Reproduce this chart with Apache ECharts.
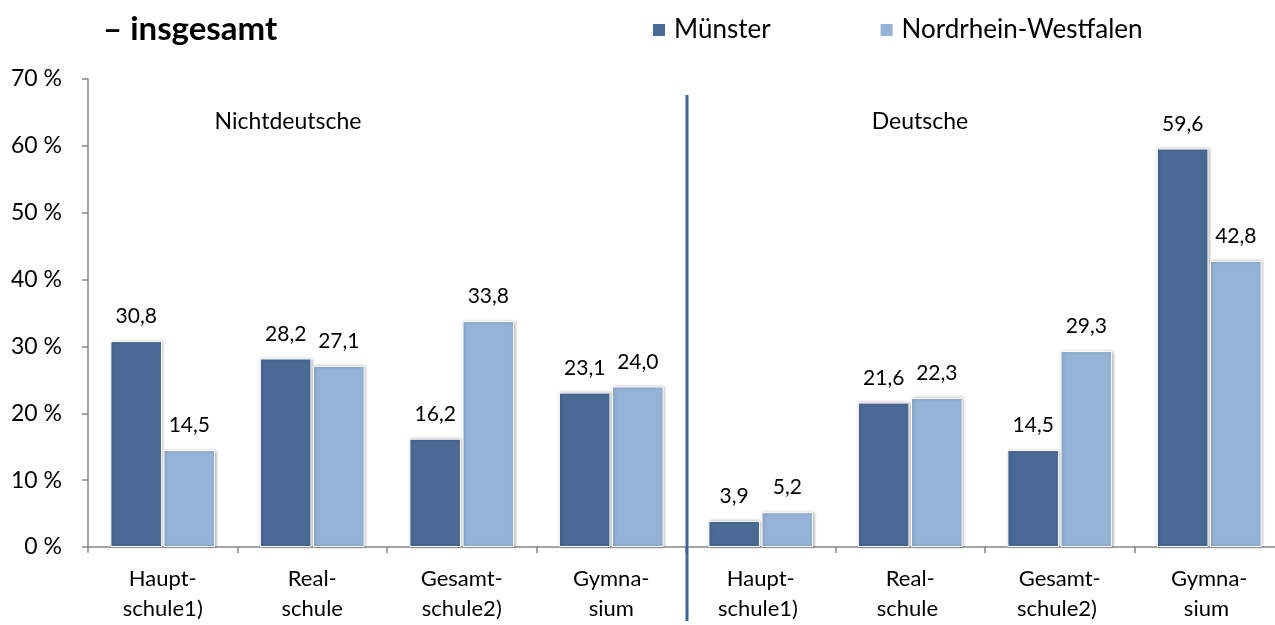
<!DOCTYPE html>
<html>
<head>
<meta charset="utf-8">
<script src="https://cdn.jsdelivr.net/npm/echarts@6/dist/echarts.min.js"></script>
<style>
  html, body { margin: 0; padding: 0; background: #fff; overflow: hidden; }
  /* etwas breiter als das Fenster: die Achse läuft rechts über den Rand */
  #chart { width: 1290px; height: 625px; }
</style>
</head>
<body>
<div id="chart"></div>
<script>
// Schulformen, links Nichtdeutsche, rechts Deutsche
var categories = ['Haupt-\nschule1)', 'Real-\nschule', 'Gesamt-\nschule2)', 'Gymna-\nsium',
                  'Haupt-\nschule1) ', 'Real-\nschule ', 'Gesamt-\nschule2) ', 'Gymna-\nsium '];
var muenster = [30.8, 28.2, 16.2, 23.1, 3.9, 21.6, 14.5, 59.6];
var nrw = [14.5, 27.1, 33.8, 24.0, 5.2, 22.3, 29.3, 42.8];
var groupNames = ['Nichtdeutsche', 'Deutsche'];
var yTicks = [0, 10, 20, 30, 40, 50, 60, 70];

var font = 'Lato, "Open Sans", sans-serif';
var darkBlue = '#4a6a96';
var lightBlue = '#95b3d7';

var chart = echarts.init(document.getElementById('chart'));

function barStyle (color) {
  return {
    color: color,
    borderColor: '#ffffff',
    borderWidth: 1,
    shadowBlur: 3,
    shadowOffsetX: 1,
    shadowOffsetY: 0,
    shadowColor: 'rgba(0,0,0,0.3)'
  }
}

function valueLabel () {
  return {
    show: true,
    position: 'top',
    distance: 14,
    color: '#000',
    fontFamily: font,
    fontSize: 21,
    formatter: function (p) {
      return p.value.toFixed(1).replace('.', ',')
    }
  }
}

var option = {
  animation: false,
  title: {
    text: '– insgesamt',
    left: 98,
    top: 8,
    textStyle: { fontFamily: font, fontSize: 33, fontWeight: 'bold', color: '#000' }
  },
  legend: {
    left: 646,
    top: 12,
    itemWidth: 14,
    itemHeight: 14,
    itemGap: 108,
    icon: 'rect',
    textStyle: { fontFamily: font, fontSize: 26, color: '#000', padding: [0, 0, 0, 3] },
    data: ['Münster', 'Nordrhein-Westfalen']
  },
  grid: {
    left: 88,
    right: 6,
    top: 79,
    bottom: 78,
    containLabel: false
  },
  xAxis: {
    type: 'category',
    data: categories,
    axisLine: { lineStyle: { color: '#868686', width: 1.5 } },
    axisTick: { show: true, length: 6, lineStyle: { color: '#868686', width: 1.5 } },
    axisLabel: {
      margin: 17,
      color: '#000',
      fontFamily: font,
      fontSize: 22,
      lineHeight: 30,
      interval: 0
    }
  },
  yAxis: {
    type: 'value',
    min: yTicks[0],
    max: yTicks[yTicks.length - 1],
    interval: 10,
    axisLine: { show: true, lineStyle: { color: '#868686', width: 1.5 } },
    axisTick: { show: true, length: 6, lineStyle: { color: '#868686', width: 1.5 } },
    splitLine: { show: false },
    axisLabel: {
      margin: 26,
      color: '#000',
      fontFamily: font,
      fontSize: 23,
      formatter: function (v) { return v + ' %' }
    }
  },
  series: [
    {
      name: 'Münster',
      type: 'bar',
      data: muenster,
      barWidth: '34.5%',
      barGap: '3%',
      itemStyle: barStyle(darkBlue),
      label: valueLabel()
    },
    {
      name: 'Nordrhein-Westfalen',
      type: 'bar',
      data: nrw,
      barWidth: '34.5%',
      barGap: '3%',
      itemStyle: barStyle(lightBlue),
      label: valueLabel()
    }
  ]
};
chart.setOption(option);

// Trennlinie und Gruppentitel an die Achse anlehnen
function boundary (i) {
  return (chart.convertToPixel({ xAxisIndex: 0 }, i) + chart.convertToPixel({ xAxisIndex: 0 }, i + 1)) / 2;
}
var xSplit = boundary(3);

chart.setOption({
  graphic: [
    {
      type: 'line',
      shape: { x1: xSplit + 1, y1: 95, x2: xSplit + 1, y2: 621 },
      style: { stroke: '#3d6494', lineWidth: 3 },
      z: 10
    },
    {
      type: 'text',
      x: boundary(1) - 99,
      y: 122,
      style: { text: groupNames[0], fontFamily: font, fontSize: 23, fill: '#000', align: 'center', verticalAlign: 'middle' }
    },
    {
      type: 'text',
      x: boundary(5) - 65,
      y: 122,
      style: { text: groupNames[1], fontFamily: font, fontSize: 23, fill: '#000', align: 'center', verticalAlign: 'middle' }
    }
  ]
});
</script>
</body>
</html>
